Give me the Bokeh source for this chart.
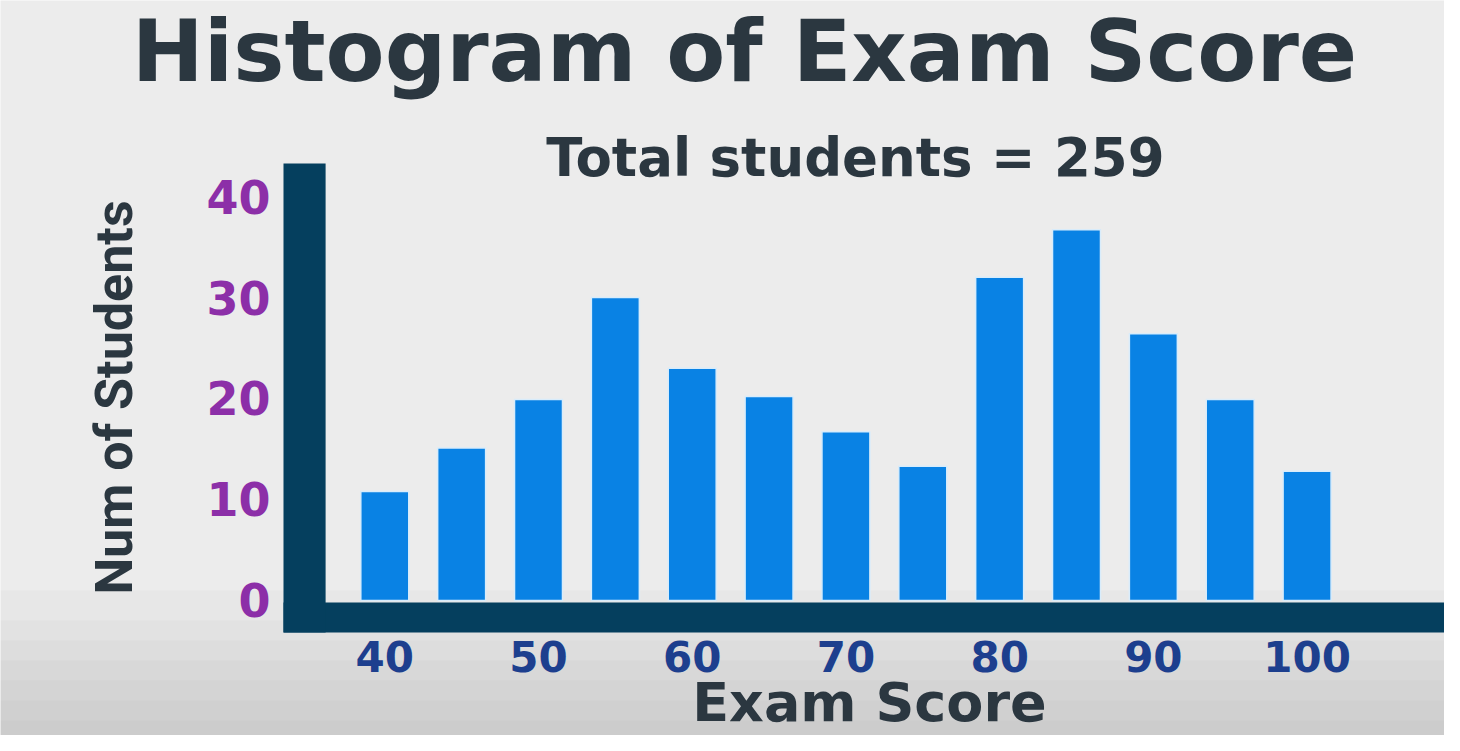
from bokeh.plotting import figure
from bokeh.models import Label, BoxAnnotation, ColumnDataSource, Range1d
from bokeh.core.properties import value
from bokeh.embed import file_html
from bokeh.resources import INLINE
from math import pi

# ---- data ----
bin_centers = [40, 45, 50, 55, 60, 65, 70, 75, 80, 85, 90, 95, 100]
counts = [10.8, 15.1, 19.9, 30.0, 23.0, 20.2, 16.7, 13.3, 32.0, 36.7, 26.4, 19.9, 12.8]
x_ticks = [40, 50, 60, 70, 80, 90, 100]
y_ticks = [0, 10, 20, 30, 40]
x_tick_labels = [str(v) for v in x_ticks]
y_tick_labels = [str(v) for v in y_ticks]
title_text = "Histogram of Exam Score"
subtitle_text = "Total students = 259"
x_label = "Exam Score"
y_label = "Num of Students"

DARK = "#2b3740"
NAVY = "#053f5e"
BAR = "#0982e4"
PURPLE = "#8c2fa8"
TICKBLUE = "#1d3f8e"
BG = "#ececec"

p = figure(width=1444, height=735, output_backend="svg", toolbar_location=None,
           x_range=Range1d(15.0, 108.94), y_range=Range1d(-13.37, 59.41),
           min_border=0, background_fill_color=BG, border_fill_color=BG, title=None)
p.outline_line_color = None
p.xaxis.visible = False
p.yaxis.visible = False
p.xgrid.visible = False
p.ygrid.visible = False

# paper shading toward the bottom
for top_v in [1.0, -1.98, -3.96, -5.94, -7.92, -9.9, -11.88]:
    p.add_layout(BoxAnnotation(top=top_v, fill_color="#8f8f8f", fill_alpha=0.05, line_color=None, level="underlay"))

# navy L-shaped axes
p.add_layout(BoxAnnotation(left=33.41, top=-0.198, bottom=-3.168, fill_color=NAVY, fill_alpha=1,
                           line_color=None, level="underlay"))
p.add_layout(BoxAnnotation(left=33.41, right=36.15, top=43.27, bottom=-3.168, fill_color=NAVY, fill_alpha=1,
                           line_color=None, level="underlay"))

src = ColumnDataSource(dict(x=bin_centers, top=counts))
p.vbar(x="x", top="top", bottom=0, width=3.12, source=src,
       fill_color=BAR, line_color="#d8ecfb", line_width=1.5)

# tick labels, placed through the plot's scales
xs = ColumnDataSource(dict(x=x_ticks, y=[-5.59] * len(x_ticks), t=x_tick_labels))
p.text(x="x", y="y", text="t", source=xs, text_align="center", text_baseline="alphabetic",
       text_font=value("DejaVu Sans"), text_font_style="bold", text_font_size="42px", text_color=TICKBLUE)
ys = ColumnDataSource(dict(x=[32.57] * len(y_ticks), y=y_ticks, t=y_tick_labels))
p.text(x="x", y="y", text="t", source=ys, text_align="right", text_baseline="alphabetic",
       text_font=value("DejaVu Sans"), text_font_style="bold", text_font_size="46px", text_color=PURPLE)

# texts
p.add_layout(Label(x=63.4, y=54.4, text=title_text, text_align="center", text_baseline="alphabetic",
                   text_font="DejaVu Sans", text_font_style="bold", text_font_size="86px", text_color=DARK))
p.add_layout(Label(x=70.62, y=43.9, text=subtitle_text, text_align="center", text_baseline="alphabetic",
                   text_font="DejaVu Sans", text_font_style="bold", text_font_size="53px", text_color=DARK))
p.add_layout(Label(x=22.42, y=20.1, text=y_label, angle=pi / 2, text_align="center", text_baseline="alphabetic",
                   text_font="Roboto", text_font_style="bold", text_font_size="52px", text_color=DARK))
p.add_layout(Label(x=71.53, y=-10.1, text=x_label, text_align="center", text_baseline="alphabetic",
                   text_font="DejaVu Sans", text_font_style="bold", text_font_size="54px", text_color=DARK))

open("out.html", "w").write(file_html(p, INLINE))
